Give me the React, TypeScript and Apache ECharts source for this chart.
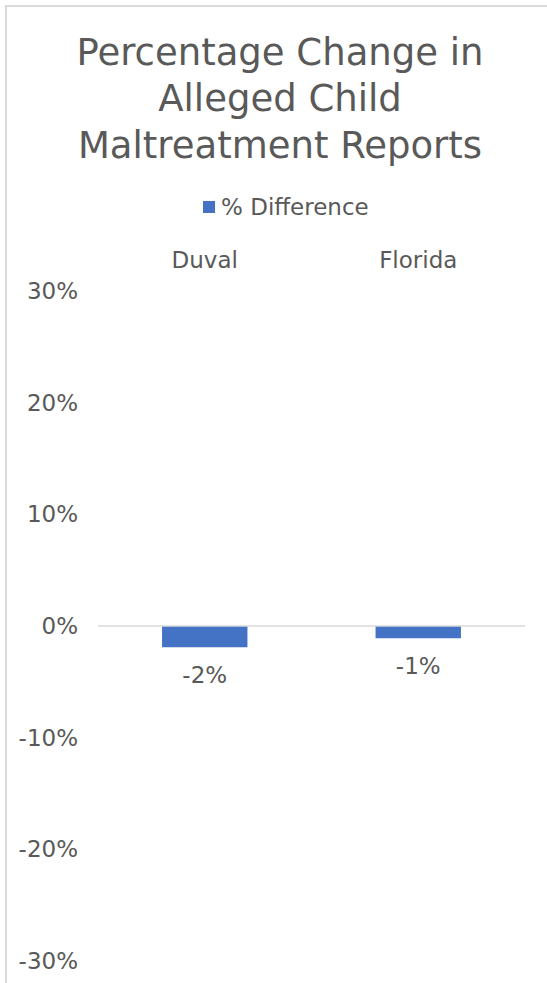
import React, { useEffect, useRef } from "react";
import * as echarts from "echarts";

const categories = ["Duval", "Florida"];
const seriesName = "% Difference";
const pctDifference = [-1.9, -1.1];
const titleLines = ["Percentage Change in", "Alleged Child", "Maltreatment Reports"];

const FONT = "DejaVu Sans";
const TEXT = "#595959";

export default function App() {
  const ref = useRef<HTMLDivElement>(null);
  useEffect(() => {
    if (!ref.current) return;
    const chart = echarts.init(ref.current, undefined, { renderer: "svg" });
    chart.setOption({
      animation: false,
      backgroundColor: "#ffffff",
      textStyle: { fontFamily: FONT },
      graphic: [
        {
          type: "rect",
          shape: { x: 6, y: 6, width: 600, height: 1050 },
          style: { fill: "none", stroke: "#d9d9d9", lineWidth: 2 },
          silent: true,
        },
      ],
      title: {
        text: titleLines.join("\n"),
        left: 280,
        top: 29,
        textAlign: "center",
        padding: 0,
        textStyle: {
          fontFamily: FONT,
          fontSize: 37,
          fontWeight: "normal",
          color: TEXT,
          lineHeight: 46.5,
        },
      },
      legend: {
        data: [seriesName],
        left: 203,
        top: 195,
        padding: 0,
        itemWidth: 12,
        itemHeight: 12,
        icon: "rect",
        itemGap: 6,
        textStyle: { fontFamily: FONT, fontSize: 23, color: TEXT, lineHeight: 24, padding: [0, 0, 0, 1] },
      },
      grid: { left: 98, right: 22, top: 291, bottom: 22, containLabel: false },
      xAxis: {
        type: "category",
        data: categories,
        position: "top",
        axisLine: { show: false },
        axisTick: { show: false },
        splitLine: { show: false },
        axisLabel: { margin: 20, fontFamily: FONT, fontSize: 23, color: TEXT },
      },
      yAxis: {
        type: "value",
        min: -30,
        max: 30,
        interval: 10,
        axisLine: { show: false },
        axisTick: { show: false },
        splitLine: { show: false },
        axisLabel: {
          margin: 20,
          fontFamily: FONT,
          fontSize: 23,
          color: TEXT,
          formatter: (v: number) => `${v}%`,
        },
      },
      series: [
        {
          name: seriesName,
          type: "bar",
          data: pctDifference,
          barWidth: "40%",
          itemStyle: { color: "#4472C4" },
          label: {
            show: true,
            position: "bottom",
            distance: 16,
            fontFamily: FONT,
            fontSize: 23,
            color: TEXT,
            formatter: (p: any) => `${Math.round(p.value)}%`,
          },
          markLine: {
            silent: true,
            symbol: "none",
            label: { show: false },
            lineStyle: { color: "#d9d9d9", width: 1.5, type: "solid" },
            data: [{ yAxis: 0 }],
          },
        },
      ],
    });
    return () => chart.dispose();
  }, []);
  return (
    <div
      ref={ref}
      style={{ position: "absolute", left: 0, top: 0, width: 547, height: 983 }}
    />
  );
}
